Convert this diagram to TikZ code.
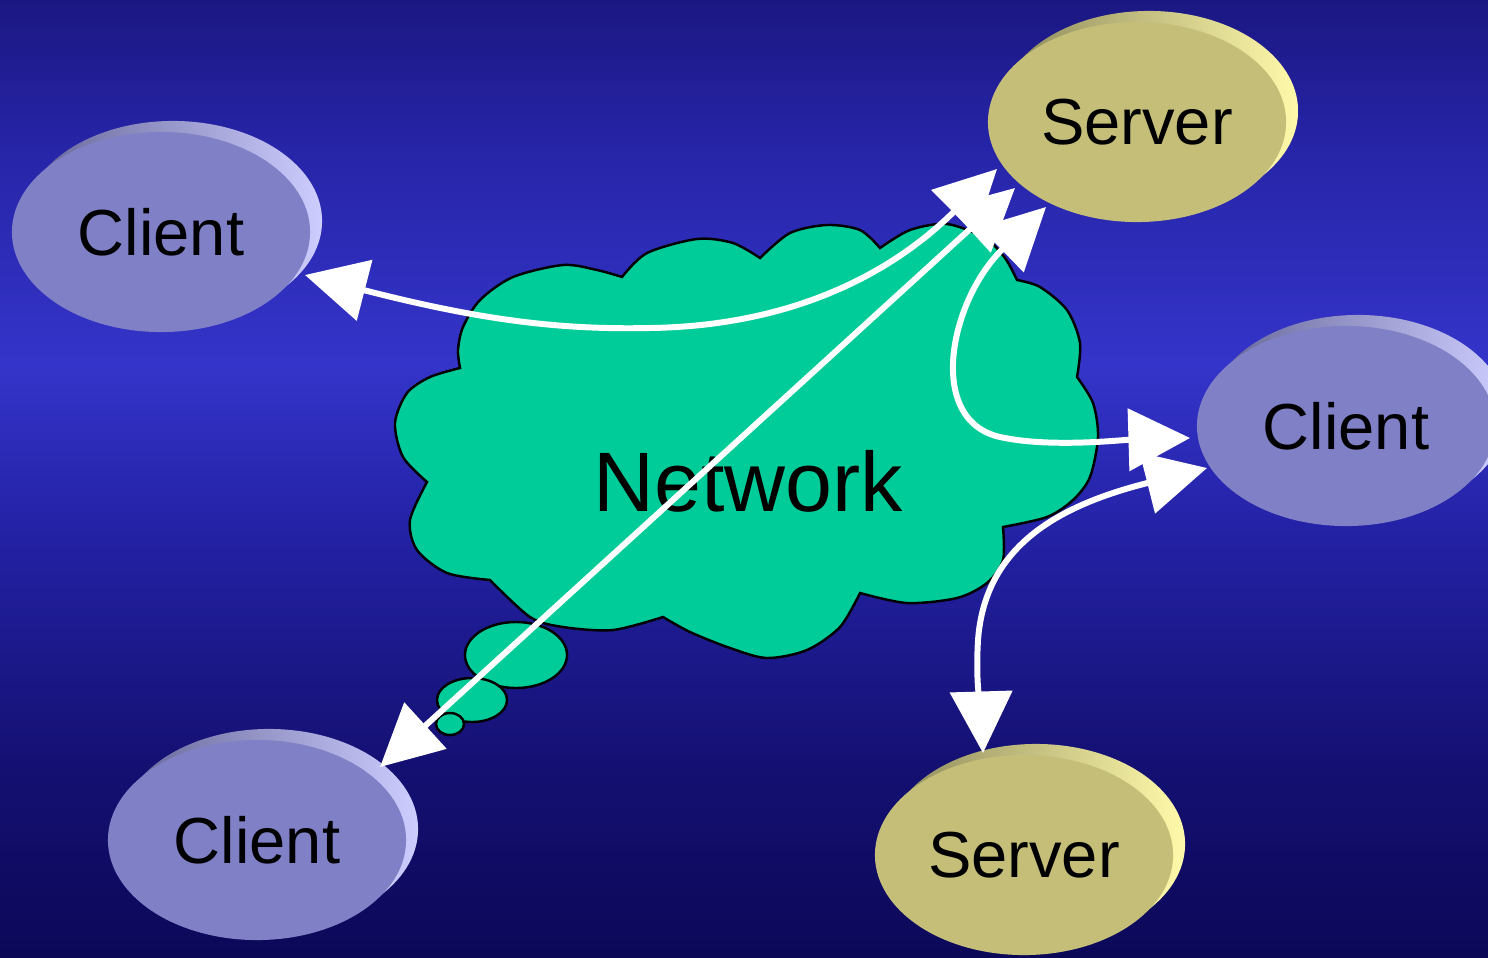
\documentclass[tikz,border=0pt]{standalone}
\usepackage{fontspec}
\setmainfont{Liberation Sans}
\usetikzlibrary{shapes.geometric,arrows.meta,calc}
\definecolor{bgA}{RGB}{12,8,88}
\definecolor{bgB}{RGB}{20,16,114}
\definecolor{bgC}{RGB}{36,34,166}
\definecolor{bgD}{RGB}{52,52,202}
\definecolor{bgE}{RGB}{38,36,166}
\definecolor{bgF}{RGB}{27,23,130}
\pgfdeclareverticalshading{bgsh}{100bp}{color(0bp)=(bgA); color(25bp)=(bgA); color(35bp)=(bgB); color(47.5bp)=(bgC); color(56bp)=(bgD); color(67.5bp)=(bgE); color(75bp)=(bgF); color(100bp)=(bgF)}
\definecolor{cliF}{RGB}{128,128,198}
\definecolor{cliD}{RGB}{100,100,150}
\definecolor{cliL}{RGB}{205,205,255}
\definecolor{srvF}{RGB}{196,190,120}
\definecolor{srvD}{RGB}{140,136,90}
\definecolor{srvL}{RGB}{255,250,170}
\definecolor{netgreen}{RGB}{0,204,153}
\begin{document}
\begin{tikzpicture}[x=0.01cm,y=-0.01cm,
  blob/.style={ellipse, minimum width=2.98cm, minimum height=2cm, inner sep=0pt, outer sep=0pt},
  cmain/.style={blob, fill=cliF, font=\fontsize{18.5pt}{22pt}\selectfont},
  cback/.style={blob, left color=cliD, right color=cliL},
  smain/.style={blob, fill=srvF, font=\fontsize{18.5pt}{22pt}\selectfont},
  sback/.style={blob, left color=srvD, right color=srvL},
  cloudst/.style={fill=netgreen, draw=black, line width=0.7pt},
  link/.style={draw=white, line width=1.7pt, >={Triangle[length=17.5pt,width=17.5pt]}, <->},
]
\useasboundingbox (0,0) rectangle (1488,957);
\shade[shading=bgsh] (0,0) rectangle (1488,957);

% ellipses
\node[cback] (c1b) at (173,221) {};
\node[cmain] (c1) at (161,232) {Client};
\node[sback] (s1b) at (1149,111) {};
\node[smain] (s1) at (1137,122) {Server};
\node[cback] (c2b) at (1358,415) {};
\node[cmain] (c2) at (1346,426) {Client};
\node[cback] (c3b) at (269,829) {};
\node[cmain] (c3) at (257,840) {Client};
\node[sback] (s2b) at (1036,844) {};
\node[smain] (s2) at (1024,855) {Server};

% cloud
\filldraw[cloudst]
  plot[smooth] coordinates {(460,368) (458,350) (463,327) (480,300) (513,277) (563,265) (597,270) (622,277)}
  -- plot[smooth] coordinates {(622,277) (647,253) (697,239) (733,243) (760,258)}
  -- plot[smooth] coordinates {(760,258) (790,233) (827,225) (860,230) (880,248)}
  -- plot[smooth] coordinates {(880,248) (910,230) (947,224) (985,238) (1005,258) (1017,280)}
  -- plot[smooth] coordinates {(1017,280) (1040,287) (1067,310) (1080,343) (1077,377)}
  -- plot[smooth] coordinates {(1077,377) (1093,403) (1098,437) (1090,477) (1073,500) (1047,517) (1003,527)}
  -- plot[smooth] coordinates {(1003,527) (1003,560) (987,583) (957,598) (907,603) (860,593)}
  -- plot[smooth] coordinates {(860,593) (840,627) (807,650) (767,658) (730,648) (690,632) (663,617)}
  -- plot[smooth] coordinates {(663,617) (613,630) (563,627) (530,617) (490,580)}
  -- plot[smooth] coordinates {(490,580) (447,573) (417,550) (410,520) (427,482)}
  -- plot[smooth] coordinates {(427,482) (403,457) (395,423) (407,393) (430,377) (460,368)}
  -- cycle;
\filldraw[cloudst] (516,655) ellipse [x radius=0.51cm, y radius=0.33cm];
\filldraw[cloudst] (472,700) ellipse [x radius=0.35cm, y radius=0.22cm];
\filldraw[cloudst] (450,724) ellipse [x radius=0.14cm, y radius=0.11cm];
\node[font=\fontsize{24pt}{28pt}\selectfont, inner sep=0pt] (net) at (748,481) {Network};

% connectors
\draw[link] ($(c1)+(144,43)$) .. controls (480,320) and (560,330) .. (650,328)
  .. controls (790,326) and (890,275) .. ($(s1)+(-140,47)$);
\draw[link] ($(c3)+(123,-73)$) -- ($(s1)+(-122,66)$);
\draw[link] ($(s1)+(-91,85)$) .. controls (950,300) and (925,420) .. (1000,437)
  .. controls (1050,448) and (1120,440) .. ($(c2)+(-156,12)$);
\draw[link] ($(c2)+(-139,42)$) .. controls (1060,505) and (985,545) .. (978,640)
  .. controls (975,690) and (982,720) .. ($(s2)+(-41,-102)$);
\end{tikzpicture}
\end{document}
